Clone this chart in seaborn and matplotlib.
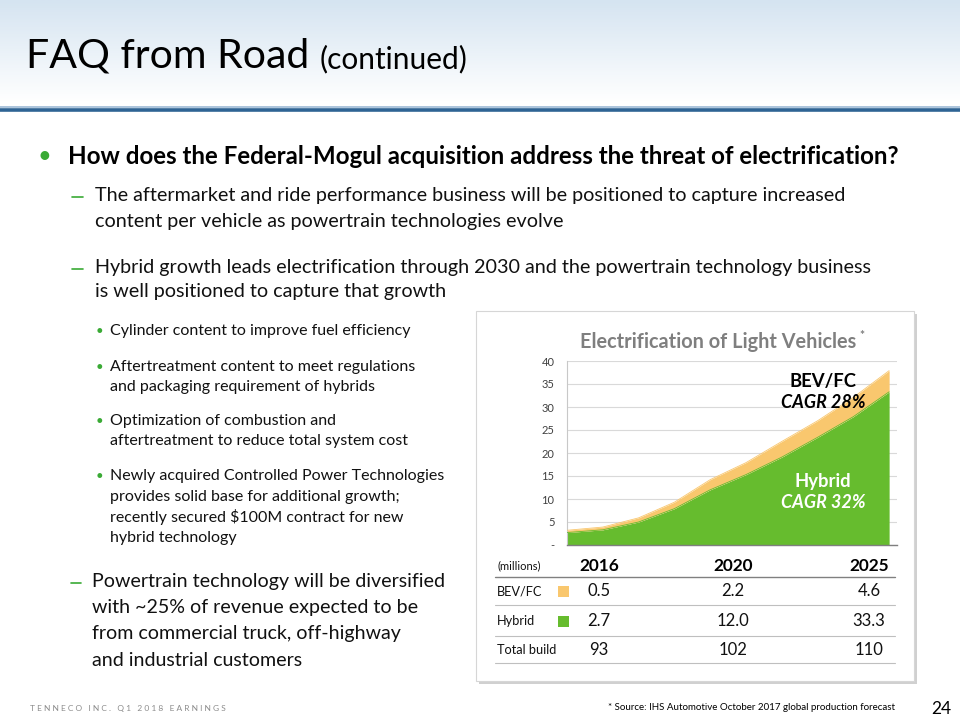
import numpy as np
import matplotlib
matplotlib.use("Agg")
import matplotlib.pyplot as plt
import seaborn as sns
from matplotlib.colors import LinearSegmentedColormap
from matplotlib.lines import Line2D
from matplotlib.patches import Rectangle

# chart data (millions of light vehicles)
years = [2016, 2017, 2018, 2019, 2020, 2021, 2022, 2023, 2024, 2025]
hybrid = [2.7, 3.3, 5.0, 7.9, 12.0, 15.3, 19.1, 23.4, 27.9, 33.3]
bev_fc = [0.5, 0.6, 0.9, 1.4, 2.2, 2.6, 3.4, 3.6, 4.2, 4.6]

# table below the chart
table_years = ["2016", "2020", "2025"]
table_bev = ["0.5", "2.2", "4.6"]
table_hybrid = ["2.7", "12.0", "33.3"]
table_total = ["93", "102", "110"]

GREEN = "#66BC2E"
ORANGE = "#F9C76E"
BULLET = "#3AAA35"
TEXT = "#111111"

W, H = 960, 720


def fx(x):
    return x / W


def fy(y):
    return 1 - y / H


sns.set_style("white")
plt.rcParams["font.family"] = ["Lato", "DejaVu Sans"]

fig = plt.figure(figsize=(9.6, 7.2), dpi=100)


def txt(x, y, s, size, **kw):
    kw.setdefault("color", TEXT)
    kw.setdefault("va", "center")
    return fig.text(fx(x), fy(y), s, fontsize=size, **kw)


def hline(x0, x1, y, color, lw, z=3):
    fig.add_artist(Line2D([fx(x0), fx(x1)], [fy(y), fy(y)], transform=fig.transFigure,
                          color=color, lw=lw, zorder=z))


# ---- header band ----
bg = fig.add_axes([0, fy(102), 1, 102 / H])
bg.set_zorder(0)
grad = np.linspace(0, 1, 100).reshape(-1, 1)
bg.imshow(grad, aspect="auto", extent=[0, 1, 0, 1],
          cmap=LinearSegmentedColormap.from_list("hdr", ["#D5E4F1", "#FFFFFF"]))
bg.axis("off")
hline(0, 960, 106.5, "#9DBAD6", 1.2)
hline(0, 960, 109.5, "#2F6494", 2.6)

txt(26, 56, "FAQ from Road", 29.5, color="#000000")
txt(320, 59, "(continued)", 21.5, color="#000000")

# ---- left text block ----
txt(37, 157, "\u2022", 17, color=BULLET)
txt(68, 157, "How does the Federal-Mogul acquisition address the threat of electrification?",
    17.4, fontweight="bold", color="#000000")

sub_lines = [(196, "The aftermarket and ride performance business will be positioned to capture increased", True),
             (221, "content per vehicle as powertrain technologies evolve", False),
             (268, "Hybrid growth leads electrification through 2030 and the powertrain technology business", True),
             (292, "is well positioned to capture that growth", False)]
for y, s, dash in sub_lines:
    if dash:
        hline(72, 83, y + 1, BULLET, 1.2)
    txt(95, y, s, 14.2)

small_lines = [(331, "Cylinder content to improve fuel efficiency", True),
               (367, "Aftertreatment content to meet regulations", True),
               (387, "and packaging requirement of hybrids", False),
               (421, "Optimization of combustion and", True),
               (441, "aftertreatment to reduce total system cost", False),
               (476, "Newly acquired Controlled Power Technologies", True),
               (497, "provides solid base for additional growth;", False),
               (517, "recently secured $100M contract for new", False),
               (538, "hybrid technology", False)]
for y, s, bullet in small_lines:
    if bullet:
        txt(96, y, "\u2022", 9.5, color=BULLET)
    txt(110, y, s, 11.5)

power_lines = ["Powertrain technology will be diversified",
               "with ~25% of revenue expected to be",
               "from commercial truck, off-highway",
               "and industrial customers"]
hline(71, 81, 583, BULLET, 1.2)
for i, s in enumerate(power_lines):
    txt(92, 582 + i * 26, s, 14.1)

# ---- chart panel ----
fig.add_artist(Rectangle((fx(479), fy(684)), (914 - 476) / W, (681 - 311) / H,
                         transform=fig.transFigure, facecolor="#D0D0D0", edgecolor="none", zorder=1))
fig.add_artist(Rectangle((fx(476), fy(681)), (914 - 476) / W, (681 - 311) / H,
                         transform=fig.transFigure, facecolor="white", edgecolor="#D6D6D6",
                         lw=0.8, zorder=1.5))

ax = fig.add_axes([fx(567), fy(545), (897 - 567) / W, (545 - 361) / H])
ax.set_zorder(2)
total = [h + b for h, b in zip(hybrid, bev_fc)]
ax.fill_between(years, 0, hybrid, color=GREEN, lw=0, zorder=2)
ax.fill_between(years, hybrid, total, color=ORANGE, lw=0, zorder=2)
sns.lineplot(x=years, y=total, ax=ax, color=ORANGE, lw=0.6, zorder=3)
sns.lineplot(x=years, y=hybrid, ax=ax, color=GREEN, lw=0.6, zorder=3)

ax.set_xlim(2016, 2025.22)
ax.set_ylim(0, 40)
ax.set_xticks([])
ax.set_yticks(range(0, 41, 5))
ax.set_yticklabels(["-"] + [str(v) for v in range(5, 41, 5)])
ax.yaxis.grid(True, color="#D9D9D9", lw=0.8)
ax.set_axisbelow(True)
ax.tick_params(axis="y", length=0, labelsize=8, colors="#404040", pad=9)
for side in ["top", "right"]:
    ax.spines[side].set_visible(False)
ax.spines["left"].set_color("#C8C8C8")
ax.spines["left"].set_linewidth(0.8)
ax.spines["bottom"].set_color("#7F7F7F")
ax.spines["bottom"].set_linewidth(1.0)
ax.set_xlabel("")
ax.set_ylabel("")

txt(718, 342, "Electrification of Light Vehicles", 14.3, fontweight="bold", color="#7F7F7F",
    ha="center", zorder=4)
txt(859, 335, "*", 8.5, fontweight="bold", color="#7F7F7F", zorder=4)

txt(823, 381, "BEV/FC", 13.3, fontweight="bold", color="#000000", ha="center", zorder=4)
txt(823, 403, "CAGR 28%", 13, fontweight="bold", style="italic", color="#000000",
    ha="center", zorder=4)
txt(823, 482, "Hybrid", 13.3, fontweight="bold", color="white", ha="center", zorder=4)
txt(823, 502, "CAGR 32%", 13, fontweight="bold", style="italic", color="white",
    ha="center", zorder=4)

# ---- table ----
col_x = [599, 733, 869]
txt(497, 566, "(millions)", 8, zorder=4)
for x, s in zip(col_x, table_years):
    txt(x, 566, s, 12.4, fontweight="bold", color="#000000", ha="center", zorder=4)
hline(495, 895, 576.5, "#808080", 1.0)

rows = [(591, "BEV/FC", table_bev, ORANGE),
        (621, "Hybrid", table_hybrid, GREEN),
        (650, "Total build", table_total, None)]
for y, label, vals, swatch in rows:
    txt(497, y, label, 9.2, zorder=4)
    if swatch is not None:
        fig.add_artist(Rectangle((fx(558), fy(y + 5.5)), 11 / W, 11 / H, transform=fig.transFigure,
                                 facecolor=swatch, edgecolor="none", zorder=4))
    for x, v in zip(col_x, vals):
        txt(x, y, v, 12, ha="center", zorder=4)
for y in [605, 635.5, 663]:
    hline(495, 895, y, "#BFBFBF", 0.8)

# ---- footer ----
txt(30, 709, "   ".join(" ".join(w) for w in "TENNECO INC. Q1 2018 EARNINGS".split()), 6.0,
    color="#8C8C8C")
txt(895, 707, "* Source: IHS Automotive October 2017 global production forecast", 7.0,
    ha="right", color="#000000")
txt(951, 709, "24", 12.5, ha="right", color="#000000")

fig.savefig("out.png", dpi=100)
plt.close(fig)
